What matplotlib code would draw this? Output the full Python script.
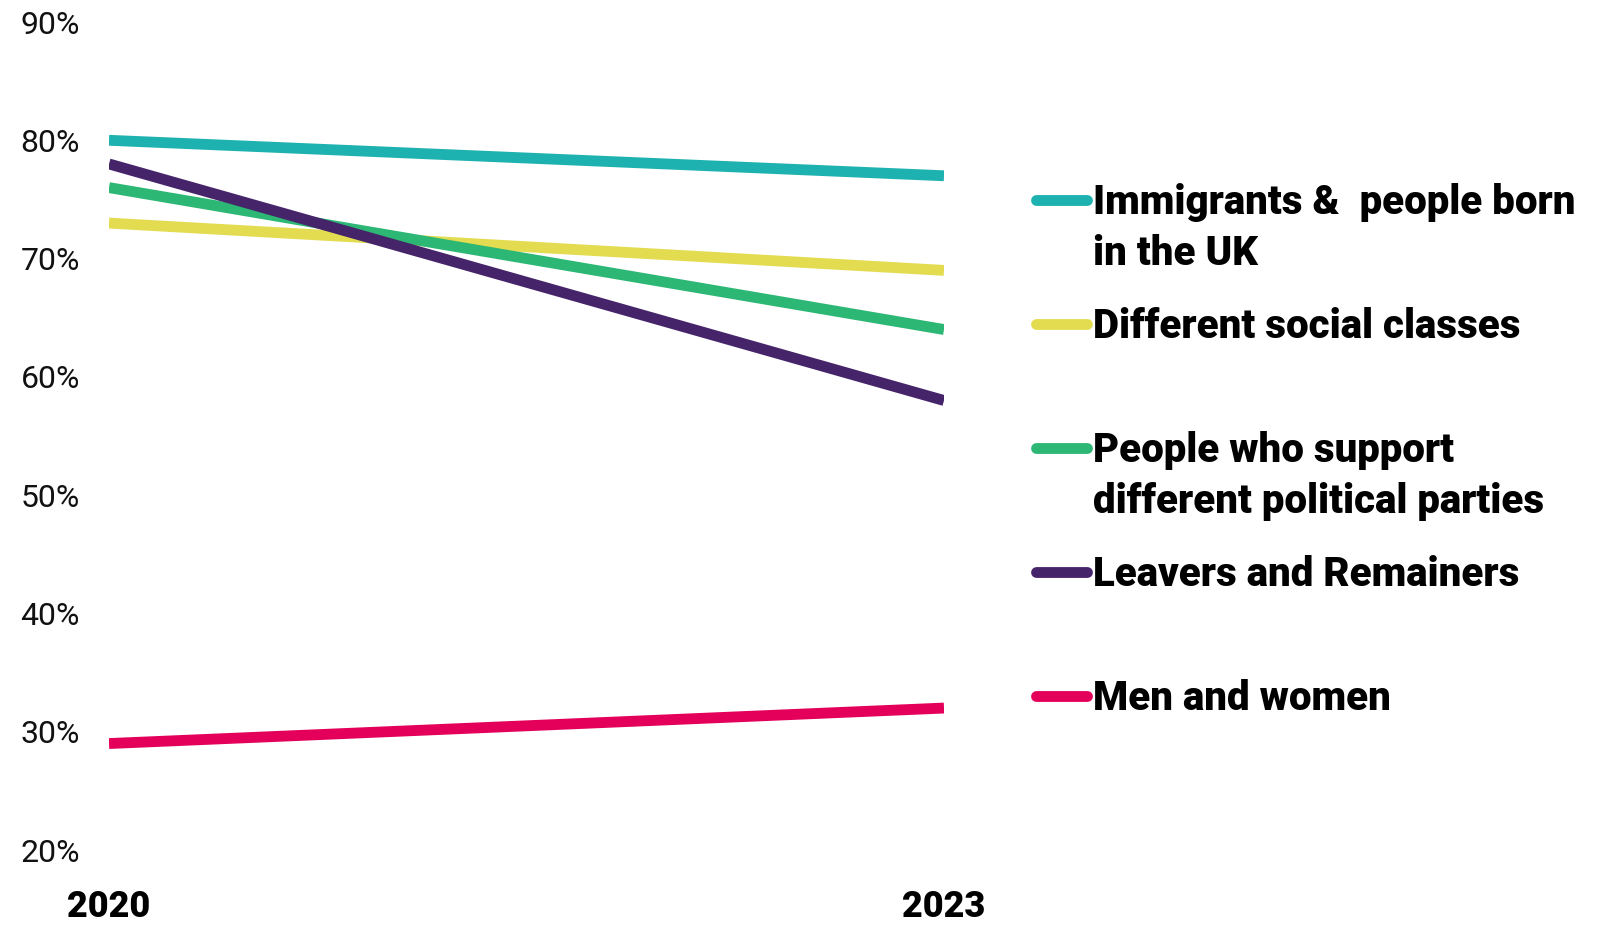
import matplotlib
matplotlib.use("Agg")
import matplotlib.pyplot as plt
from matplotlib.lines import Line2D

# Data
years = [2020, 2023]
year_labels = ["2020", "2023"]
immigrants = [80, 77]
social_classes = [73, 69]
political = [76, 64]
leave_remain = [78, 58]
men_women = [29, 32]

series_labels = [
    "Immigrants &  people born\nin the UK",
    "Different social classes",
    "People who support\ndifferent political parties",
    "Leavers and Remainers",
    "Men and women",
]
series_values = [immigrants, social_classes, political, leave_remain, men_women]
colors = ["#1db2b0", "#e3dc50", "#2db774", "#46246a", "#e4005a"]

y_ticks = [20, 30, 40, 50, 60, 70, 80, 90]
y_tick_labels = ["20%", "30%", "40%", "50%", "60%", "70%", "80%", "90%"]

W, H = 1608, 925
fig = plt.figure(figsize=(W / 100, H / 100), dpi=100)
ax = fig.add_axes([109 / W, 1 - 850 / H, (944 - 109) / W, (850 - 22) / H])

for vals, c in zip(series_values, colors):
    ax.plot(years, vals, color=c, lw=7.8, solid_capstyle="butt")

ax.set_xlim(2020, 2023)
ax.set_ylim(20, 90)
ax.set_yticks(y_ticks)
ax.set_yticklabels(y_tick_labels, fontfamily="Roboto", fontweight="normal",
                   fontsize=23, color="#111111")
ax.set_xticks(years)
ax.set_xticklabels(year_labels, fontfamily="Roboto", fontweight="black", fontsize=26)
ax.tick_params(axis="y", length=0, pad=21)
ax.tick_params(axis="x", length=0, pad=28)
for s in ax.spines.values():
    s.set_visible(False)

# legend drawn by hand so the handle lines up with the first text line
y0, step, line_gap = 200, 124, 51
for i, (lab, c) in enumerate(zip(series_labels, colors)):
    yp = y0 + i * step
    fig.add_artist(Line2D([1036 / W, 1087 / W], [1 - yp / H, 1 - yp / H],
                          color=c, lw=7.8, solid_capstyle="round",
                          transform=fig.transFigure))
    for j, part in enumerate(lab.split("\n")):
        fig.text(1093 / W, 1 - (yp + 14 + j * line_gap) / H, part,
                 fontfamily="Roboto", fontweight="black", fontsize=29,
                 va="baseline", ha="left")

fig.savefig("out.png", dpi=100)
